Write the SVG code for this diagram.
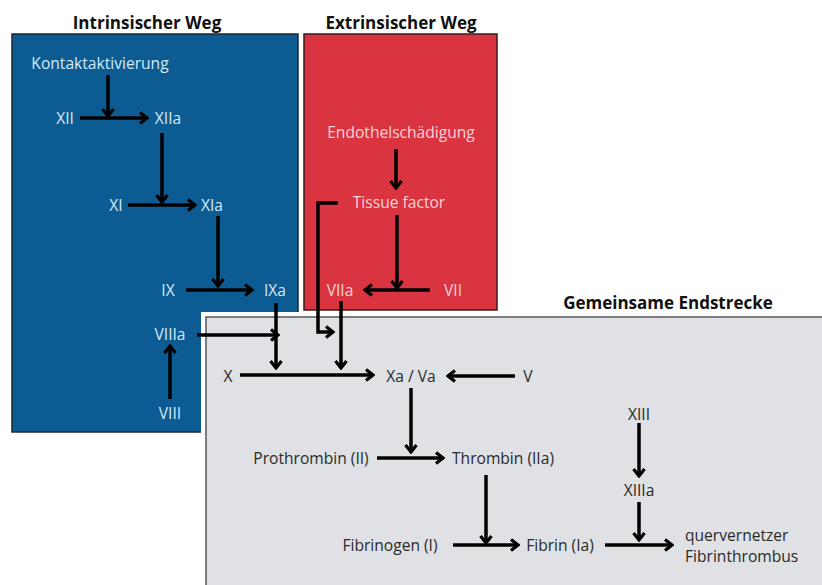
<svg xmlns="http://www.w3.org/2000/svg" width="822" height="585" viewBox="0 0 822 585">
<defs>
<marker id="ah" markerUnits="userSpaceOnUse" viewBox="0 0 12 14" refX="10" refY="7" markerWidth="12" markerHeight="14" orient="auto">
<path d="M3,1.5 L10,7 L3,12.5" fill="none" stroke="#000" stroke-width="3.2"/>
</marker>
<style>
text{font-family:"Open Sans","Noto Sans","Liberation Sans",sans-serif;font-size:15.6px;text-anchor:middle;dominant-baseline:central}
.t{font-weight:bold;font-size:17px;fill:#111}
.b{fill:#d3e9f7}
.r{fill:#f9d3d6}
.g{fill:#2a2a2a}
.c line,.c path{stroke:#000;stroke-width:3.5;fill:none}
.a{marker-end:url(#ah)}
</style>
</defs>
<rect width="822" height="585" fill="#fff"/>
<g id="intrinsic">
<rect x="12" y="34" width="286" height="398" fill="#0c5b92" stroke="#1b2733" stroke-width="1.5"/>
<text class="t" x="147" y="22">Intrinsischer Weg</text>
</g>
<g id="extrinsic">
<rect x="304" y="34" width="193" height="276" fill="#db3441" stroke="#3a1a1a" stroke-width="1.5"/>
<text class="t" x="401" y="22">Extrinsischer Weg</text>
</g>
<g id="common">
<rect x="201" y="312" width="640" height="300" fill="#fff"/>
<rect x="206" y="317" width="630" height="290" fill="#dfe1e5" stroke="#555" stroke-width="1.5"/>
<text class="t" x="668" y="302">Gemeinsame Endstrecke</text>
</g>
<g id="n-kontakt"><text class="b" x="100" y="63">Kontaktaktivierung</text></g>
<g id="n-XII"><text class="b" x="65" y="118">XII</text></g>
<g id="n-XIIa"><text class="b" x="168" y="118">XIIa</text></g>
<g id="n-XI"><text class="b" x="116" y="205">XI</text></g>
<g id="n-XIa"><text class="b" x="212" y="205">XIa</text></g>
<g id="n-IX"><text class="b" x="168" y="290">IX</text></g>
<g id="n-IXa"><text class="b" x="275" y="290">IXa</text></g>
<g id="n-VIIIa"><text class="b" x="170" y="334">VIIIa</text></g>
<g id="n-VIII"><text class="b" x="170" y="413">VIII</text></g>
<g id="n-endo"><text class="r" x="401" y="132">Endothelschädigung</text></g>
<g id="n-tf"><text class="r" x="399" y="202">Tissue factor</text></g>
<g id="n-VIIa"><text class="r" x="340" y="290">VIIa</text></g>
<g id="n-VII"><text class="r" x="453" y="290">VII</text></g>
<g id="n-X"><text class="g" x="228" y="376">X</text></g>
<g id="n-XaVa"><text class="g" x="411" y="376">Xa / Va</text></g>
<g id="n-V"><text class="g" x="528" y="376">V</text></g>
<g id="n-prothrombin"><text class="g" x="311" y="458">Prothrombin (II)</text></g>
<g id="n-thrombin"><text class="g" x="503" y="458">Thrombin (IIa)</text></g>
<g id="n-XIII"><text class="g" x="639" y="414">XIII</text></g>
<g id="n-XIIIa"><text class="g" x="639" y="490">XIIIa</text></g>
<g id="n-fibrinogen"><text class="g" x="390" y="545">Fibrinogen (I)</text></g>
<g id="n-fibrin"><text class="g" x="560" y="545">Fibrin (Ia)</text></g>
<g id="n-thrombus"><text class="g" x="685" y="535" style="text-anchor:start">quervernetzer</text><text class="g" x="685" y="556" style="text-anchor:start">Fibrinthrombus</text></g>
<g id="connectors" class="c">
<line class="a" x1="108" y1="75" x2="108" y2="116"/>
<line class="a" x1="80" y1="118" x2="147" y2="118"/>
<line class="a" x1="162" y1="133" x2="162" y2="202"/>
<line class="a" x1="128" y1="205" x2="195" y2="205"/>
<line class="a" x1="218" y1="216" x2="218" y2="286"/>
<line class="a" x1="186" y1="290" x2="252" y2="290"/>
<line class="a" x1="170" y1="399" x2="170" y2="346"/>
<line class="a" x1="197" y1="335" x2="278" y2="335"/>
<line class="a" x1="276" y1="303" x2="276" y2="368"/>
<line class="a" x1="396" y1="149" x2="396" y2="188"/>
<line class="a" x1="397" y1="215" x2="397" y2="288"/>
<line class="a" x1="430" y1="290" x2="365" y2="290"/>
<path class="a" d="M338,203 H318 V332 H333"/>
<line class="a" x1="341" y1="301" x2="341" y2="368"/>
<line class="a" x1="240" y1="375" x2="373" y2="375"/>
<line class="a" x1="515" y1="376" x2="448" y2="376"/>
<line class="a" x1="411" y1="388" x2="411" y2="452"/>
<line class="a" x1="377" y1="458" x2="443" y2="458"/>
<line class="a" x1="486" y1="475" x2="486" y2="543"/>
<line class="a" x1="453" y1="545" x2="518" y2="545"/>
<line class="a" x1="639" y1="423" x2="639" y2="476"/>
<line class="a" x1="639" y1="502" x2="639" y2="540"/>
<line class="a" x1="605" y1="545" x2="672" y2="545"/>
</g>
</svg>
